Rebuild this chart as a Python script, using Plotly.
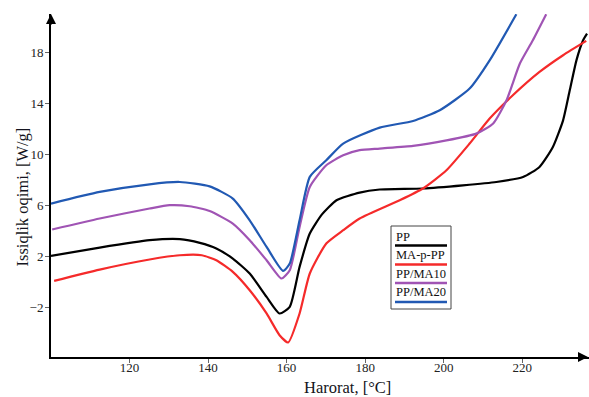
import plotly.graph_objects as go

# ---- data ----
pp_x = [100, 112.4, 125.1, 132.8, 137.9, 142.1, 146.3, 150.6, 154.9, 158.2, 160.8, 163.3,
        165.9, 169.0, 172.7, 178.6, 183.7, 194.7, 204.9, 213.4, 220.2, 224.4, 227.8, 230.4,
        232.1, 233.8, 235.5, 236.5]
pp_y = [2.05, 2.7, 3.28, 3.36, 3.07, 2.63, 1.84, 0.67, -1.16, -2.46, -1.94, 1.19,
        3.8, 5.3, 6.41, 7.01, 7.25, 7.33, 7.58, 7.84, 8.23, 9.02, 10.58, 12.67,
        15.02, 17.37, 18.94, 19.46]

mapp_x = [100.8, 112.4, 125.1, 132.8, 138.4, 142.1, 146.3, 150.6, 154.9, 158.2, 160.4, 163.3,
          165.9, 170.1, 174.4, 178.6, 188.8, 194.7, 200.7, 206.6, 211.7, 217.6, 224.4, 230.4, 236.3]
mapp_y = [0.09, 0.98, 1.77, 2.1, 2.1, 1.71, 0.8, -0.64, -2.46, -4.16, -4.73, -2.46,
          0.67, 3.02, 4.06, 4.98, 6.41, 7.33, 8.76, 10.85, 12.81, 14.63, 16.46, 17.77, 18.89]

ma10_x = [100.3, 112.4, 125.1, 130.2, 135.3, 140.4, 146.3, 150.6, 154.9, 158.7, 160.8,
          163.3, 165.9, 170.1, 174.4, 178.6, 183.7, 192.2, 200.7, 208.3, 212.6, 216, 219.4,
          222.7, 226.1]
ma10_y = [4.12, 4.98, 5.76, 6.02, 5.94, 5.57, 4.58, 3.28, 1.71, 0.28, 0.93,
          4.32, 7.45, 9.15, 9.93, 10.33, 10.46, 10.67, 11.1, 11.63, 12.42, 14.24, 17.12,
          18.94, 20.98]

ma20_x = [100, 112.4, 125.1, 132.8, 140.4, 146.3, 150.6, 154.9, 159.1, 160.8, 163.3,
          165.9, 170.1, 174.4, 183.7, 192.2, 199, 206.6, 211.7, 218.5]
ma20_y = [6.15, 7.06, 7.66, 7.84, 7.5, 6.54, 4.84, 2.75, 0.87, 1.45, 4.84,
          8.24, 9.54, 10.85, 12.1, 12.62, 13.46, 15.16, 17.37, 20.98]

names = ["PP", "MA-p-PP", "PP/MA10", "PP/MA20"]
colors = ["#000000", "#f52a2a", "#a054b4", "#2159b3"]
series = [(pp_x, pp_y), (mapp_x, mapp_y), (ma10_x, ma10_y), (ma20_x, ma20_y)]

x_ticks = [120, 140, 160, 180, 200, 220]
y_ticks = [-2, 2, 6, 10, 14, 18]
x_range = [100, 237]
y_range = [-5.87, 21]

FONT = "Liberation Serif, Times New Roman, DejaVu Serif, serif"

fig = go.Figure()
for (xs, ys), nm, c in zip(series, names, colors):
    fig.add_trace(go.Scatter(x=xs, y=ys, mode="lines", name=nm,
                             line=dict(color=c, width=2.2, shape="spline", smoothing=0.55),
                             showlegend=False))

W, H = 589, 397
ml, mr, mt, mb = 51, 0, 14, 40
pw, ph = W - ml - mr, H - mt - mb


def px2paper(px, py):
    return (px - ml) / pw, (H - mb - py) / ph


shapes = []
annotations = []

# custom legend box
bx0, by0 = px2paper(391, 309)
bx1, by1 = px2paper(451, 226)
shapes.append(dict(type="rect", xref="paper", yref="paper", x0=bx0, y0=by0, x1=bx1, y1=by1,
                   line=dict(color="#444444", width=1), fillcolor="white", layer="above"))
text_py = [236.5, 254.5, 273.5, 292]
line_py = [245.5, 264.5, 283, 302]
for nm, c, tpy, lpy in zip(names, colors, text_py, line_py):
    tx, ty = px2paper(394, tpy)
    annotations.append(dict(text=nm, xref="paper", yref="paper", x=tx, y=ty, xanchor="left",
                            yanchor="middle", showarrow=False,
                            font=dict(family=FONT, size=12.5, color="#111111")))
    lx0, ly = px2paper(395, lpy)
    lx1, _ = px2paper(447, lpy)
    shapes.append(dict(type="line", xref="paper", yref="paper", x0=lx0, x1=lx1, y0=ly, y1=ly,
                       line=dict(color=c, width=2.5), layer="above"))

# axis titles
tx, ty = px2paper(21.5, 197)
annotations.append(dict(text="Issiqlik oqimi, [W/g]", xref="paper", yref="paper", x=tx, y=ty,
                        textangle=-90, showarrow=False, xanchor="center", yanchor="middle",
                        font=dict(family=FONT, size=16.5, color="#141420")))
tx, ty = px2paper(347, 387)
annotations.append(dict(text="Harorat, [°C]", xref="paper", yref="paper", x=tx, y=ty,
                        showarrow=False, xanchor="center", yanchor="middle",
                        font=dict(family=FONT, size=16.5, color="#141420")))

# axis arrows
annotations.append(dict(x=1, y=0, xref="paper", yref="paper", ax=-12, ay=0, text="",
                        showarrow=True, arrowhead=2, arrowsize=1, arrowwidth=2, arrowcolor="black"))
annotations.append(dict(x=0, y=1, xref="paper", yref="paper", ax=0, ay=12, text="",
                        showarrow=True, arrowhead=2, arrowsize=1, arrowwidth=2, arrowcolor="black"))

fig.update_layout(
    width=W, height=H,
    margin=dict(l=ml, r=mr, t=mt, b=mb),
    paper_bgcolor="white", plot_bgcolor="white",
    shapes=shapes, annotations=annotations,
    showlegend=False,
    font=dict(family=FONT, size=13, color="#222222"),
)
fig.update_xaxes(range=x_range, tickvals=x_ticks, showgrid=False, zeroline=False,
                 showline=True, linecolor="black", linewidth=2,
                 ticks="outside", ticklen=4, tickcolor="#666666", tickwidth=1,
                 ticklabelstandoff=-7,
                 tickfont=dict(family=FONT, size=13, color="#222222"))
fig.update_yaxes(range=y_range, tickvals=y_ticks, showgrid=False, zeroline=False,
                 showline=True, linecolor="black", linewidth=2,
                 ticks="outside", ticklen=4, tickcolor="#666666", tickwidth=1,
                 ticklabelstandoff=-1,
                 tickfont=dict(family=FONT, size=13, color="#222222"))

fig.write_html("out.html")
